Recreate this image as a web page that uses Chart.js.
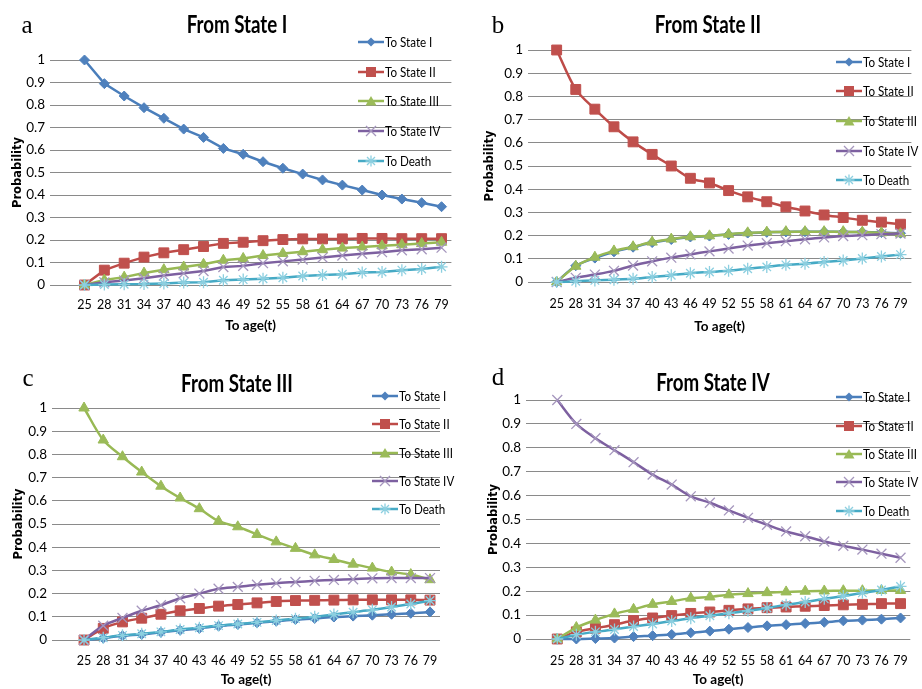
<!DOCTYPE html>
<html lang="en">
<head>
<meta charset="UTF-8" />
<title>Transition probabilities by age</title>
<script src="https://cdn.jsdelivr.net/npm/chart.js"></script>
<style>
  body { margin: 0; background: #fff; }
  #page { position: relative; width: 922px; height: 689px; overflow: hidden; background: #fff; }
  .panel { position: absolute; }
  .letter { position: absolute; transform: translate(-50%, -50%); font-family: 'Liberation Serif', 'DejaVu Serif', serif; font-size: 25px; color: #000; }
  .title { position: absolute; transform: translate(-50%, -50%) scaleX(0.78); white-space: nowrap; font-family: Lato, sans-serif; font-weight: bold; font-size: 24px; color: #000; }
  .leg { position: absolute; display: flex; align-items: center; height: 16px; white-space: nowrap; font-family: Lato, sans-serif; font-size: 13.5px; color: #000; }
  .leg svg { display: block; margin-right: 1px; }
  .leg span { display: inline-block; transform: scaleX(0.86); transform-origin: left center; }
</style>
</head>
<body>
<div id="page"></div>

<script>
  // ages on the x axis and the probability ticks
  const ages = [25, 28, 31, 34, 37, 40, 43, 46, 49, 52, 55, 58, 61, 64, 67, 70, 73, 76, 79];
  const yTicks = [0, 0.1, 0.2, 0.3, 0.4, 0.5, 0.6, 0.7, 0.8, 0.9, 1];
  const seriesNames = ['To State I', 'To State II', 'To State III', 'To State IV', 'To Death'];
  const panelLetters = ['a', 'b', 'c', 'd'];
  const panelTitles = ['From State I', 'From State II', 'From State III', 'From State IV'];

  // a: from State I
  const a_toI   = [1.0, 0.895, 0.84, 0.788, 0.741, 0.693, 0.656, 0.607, 0.581, 0.548, 0.519, 0.493, 0.467, 0.444, 0.422, 0.4, 0.382, 0.366, 0.348];
  const a_toII  = [0, 0.066, 0.097, 0.124, 0.143, 0.157, 0.171, 0.185, 0.19, 0.197, 0.202, 0.205, 0.205, 0.205, 0.207, 0.207, 0.206, 0.206, 0.206];
  const a_toIII = [0, 0.022, 0.035, 0.053, 0.068, 0.08, 0.092, 0.11, 0.118, 0.131, 0.14, 0.148, 0.157, 0.164, 0.169, 0.174, 0.179, 0.184, 0.19];
  const a_toIV  = [0, 0.012, 0.02, 0.03, 0.042, 0.052, 0.062, 0.08, 0.085, 0.097, 0.105, 0.113, 0.122, 0.131, 0.139, 0.146, 0.154, 0.159, 0.166];
  const a_toD   = [0, 0.002, 0.003, 0.004, 0.007, 0.011, 0.012, 0.021, 0.024, 0.028, 0.032, 0.04, 0.044, 0.048, 0.056, 0.058, 0.066, 0.071, 0.081];

  // b: from State II
  const b_toI   = [0, 0.07, 0.103, 0.13, 0.15, 0.17, 0.183, 0.194, 0.198, 0.205, 0.211, 0.214, 0.216, 0.217, 0.217, 0.216, 0.215, 0.213, 0.21];
  const b_toII  = [1.0, 0.83, 0.745, 0.669, 0.604, 0.55, 0.5, 0.447, 0.427, 0.394, 0.367, 0.346, 0.324, 0.306, 0.289, 0.278, 0.266, 0.258, 0.249];
  const b_toIII = [0, 0.068, 0.107, 0.134, 0.152, 0.172, 0.185, 0.195, 0.199, 0.206, 0.212, 0.215, 0.217, 0.217, 0.217, 0.217, 0.215, 0.212, 0.208];
  const b_toIV  = [0, 0.018, 0.032, 0.048, 0.071, 0.089, 0.105, 0.119, 0.132, 0.144, 0.157, 0.167, 0.176, 0.184, 0.192, 0.198, 0.202, 0.206, 0.209];
  const b_toD   = [0, 0.003, 0.007, 0.01, 0.014, 0.022, 0.029, 0.038, 0.043, 0.048, 0.057, 0.065, 0.074, 0.079, 0.086, 0.093, 0.101, 0.11, 0.118];

  // c: from State III
  const c_toI   = [0, 0.008, 0.018, 0.024, 0.033, 0.042, 0.05, 0.06, 0.067, 0.074, 0.081, 0.088, 0.093, 0.099, 0.103, 0.107, 0.111, 0.115, 0.121];
  const c_toII  = [0, 0.05, 0.078, 0.094, 0.111, 0.126, 0.136, 0.146, 0.153, 0.16, 0.166, 0.17, 0.171, 0.172, 0.173, 0.173, 0.173, 0.173, 0.172];
  const c_toIII = [1.0, 0.862, 0.79, 0.724, 0.663, 0.612, 0.566, 0.512, 0.488, 0.455, 0.423, 0.395, 0.367, 0.347, 0.327, 0.31, 0.293, 0.282, 0.26];
  const c_toIV  = [0, 0.062, 0.095, 0.126, 0.15, 0.18, 0.2, 0.221, 0.229, 0.238, 0.245, 0.25, 0.255, 0.259, 0.262, 0.266, 0.267, 0.267, 0.267];
  const c_toD   = [0, 0.01, 0.02, 0.027, 0.035, 0.045, 0.053, 0.062, 0.069, 0.076, 0.084, 0.092, 0.1, 0.11, 0.12, 0.13, 0.142, 0.155, 0.17];

  // d: from State IV
  const d_toI   = [0, 0.0, 0.002, 0.004, 0.01, 0.014, 0.019, 0.026, 0.033, 0.041, 0.048, 0.055, 0.06, 0.065, 0.07, 0.076, 0.079, 0.083, 0.088];
  const d_toII  = [0, 0.03, 0.045, 0.06, 0.077, 0.088, 0.098, 0.107, 0.113, 0.12, 0.126, 0.131, 0.134, 0.137, 0.14, 0.143, 0.145, 0.148, 0.148];
  const d_toIII = [0, 0.048, 0.079, 0.105, 0.124, 0.145, 0.157, 0.171, 0.176, 0.185, 0.19, 0.194, 0.197, 0.2, 0.201, 0.202, 0.202, 0.203, 0.203];
  const d_toIV  = [1.0, 0.9, 0.84, 0.79, 0.74, 0.688, 0.646, 0.597, 0.57, 0.538, 0.507, 0.478, 0.45, 0.43, 0.408, 0.39, 0.374, 0.357, 0.34];
  const d_toD   = [0, 0.018, 0.03, 0.04, 0.052, 0.063, 0.075, 0.087, 0.097, 0.108, 0.118, 0.13, 0.143, 0.155, 0.168, 0.18, 0.193, 0.205, 0.22];

  // Excel-like series styles
  const lineColors   = ['#4a7ebb', '#be4b48', '#98b954', '#7d60a0', '#46aac5'];
  const markerColors = ['#4f81bd', '#c0504d', '#9bbb59', '#a596bd', '#8ccfe0'];
  const markerStyles = ['rectRot', 'rect', 'triangle', 'crossRot', 'star'];
  const markerSizes  = [5, 7, 6, 7, 6];

  // layout of the four panels (canvas box, plot area inside it, overlay positions)
  const panels = [
    { series: [a_toI, a_toII, a_toIII, a_toIV, a_toD], box: [0, 0, 461, 336], area: [50, 60, 457, 285],
      xMin: 19.78, xMax: 80.49, tension: 0, yTitlePad: 11, xTitlePad: 2, xTickPad: 12,
      letter: [27, 25], title: [237, 23], legX: 358, legRows: [42, 72, 101, 131, 161] },
    { series: [b_toI, b_toII, b_toIII, b_toIV, b_toD], box: [461, 0, 461, 336], area: [67, 50, 455, 282],
      xMin: 20.5, xMax: 80.71, tension: 0.3, yTitlePad: 22, xTitlePad: 1, xTickPad: 14,
      letter: [498, 25], title: [708, 23], legX: 836, legRows: [62, 91, 121, 151, 180] },
    { series: [c_toI, c_toII, c_toIII, c_toIV, c_toD], box: [0, 340, 461, 349], area: [52, 68, 440, 300],
      xMin: 20.0, xMax: 80.56, tension: 0.3, yTitlePad: 12, xTitlePad: 1, xTickPad: 13,
      letter: [28, 378], title: [237, 382], legX: 372, legRows: [396, 424, 453, 481, 509] },
    { series: [d_toI, d_toII, d_toIII, d_toIV, d_toD], box: [461, 340, 461, 349], area: [65, 60, 458, 299],
      xMin: 20.08, xMax: 80.54, tension: 0.3, yTitlePad: 26, xTitlePad: 1, xTickPad: 14,
      letter: [498, 377], title: [713, 381], legX: 836, legRows: [397, 426, 454, 482, 511] }
  ];

  const page = document.getElementById('page');

  // small svg icon for the legend: line with the series marker
  function legendIcon(i) {
    const c = lineColors[i], m = markerColors[i], cx = 13, cy = 8;
    let mark = '';
    if (markerStyles[i] === 'rectRot') mark = `<polygon points="${cx},${cy-4.5} ${cx+4.5},${cy} ${cx},${cy+4.5} ${cx-4.5},${cy}" fill="${m}"/>`;
    if (markerStyles[i] === 'rect') mark = `<rect x="${cx-5}" y="${cy-5}" width="10" height="10" fill="${m}"/>`;
    if (markerStyles[i] === 'triangle') mark = `<polygon points="${cx},${cy-5} ${cx+5.5},${cy+4.5} ${cx-5.5},${cy+4.5}" fill="${m}"/>`;
    if (markerStyles[i] === 'crossRot') mark = `<path d="M${cx-5} ${cy-5}L${cx+5} ${cy+5}M${cx+5} ${cy-5}L${cx-5} ${cy+5}" stroke="${m}" stroke-width="1.3"/>`;
    if (markerStyles[i] === 'star') mark = `<path d="M${cx-4} ${cy-4}L${cx+4} ${cy+4}M${cx+4} ${cy-4}L${cx-4} ${cy+4}M${cx} ${cy-5.5}L${cx} ${cy+5.5}M${cx-5.5} ${cy}L${cx+5.5} ${cy}" stroke="${m}" stroke-width="1.3"/>`;
    return `<svg width="26" height="16"><line x1="0" y1="${cy}" x2="26" y2="${cy}" stroke="${c}" stroke-width="2.5"/>${mark}</svg>`;
  }

  panels.forEach((p, k) => {
    const [bx, by, bw, bh] = p.box;
    const [al, at, ar, ab] = p.area;

    const wrap = document.createElement('div');
    wrap.className = 'panel';
    wrap.style.cssText = `left:${bx}px;top:${by}px;width:${bw}px;height:${bh}px;`;
    const cv = document.createElement('canvas');
    wrap.appendChild(cv);
    page.appendChild(wrap);

    const datasets = p.series.map((vals, i) => ({
      label: seriesNames[i],
      data: vals.map((v, j) => ({ x: ages[j], y: v })),
      borderColor: lineColors[i],
      backgroundColor: markerColors[i],
      borderWidth: 2.5,
      pointStyle: markerStyles[i],
      pointRadius: markerSizes[i],
      pointBackgroundColor: markerColors[i],
      pointBorderColor: markerColors[i],
      pointBorderWidth: (i >= 3) ? 1.3 : 1,
      tension: p.tension,
      order: 4 - i,
      clip: false
    }));

    new Chart(cv, {
      type: 'line',
      data: { datasets },
      options: {
        responsive: true,
        maintainAspectRatio: false,
        animation: false,
        layout: { padding: { left: 0, top: at, right: bw - ar, bottom: 0 } },
        plugins: { legend: { display: false }, tooltip: { enabled: false } },
        scales: {
          x: {
            type: 'linear',
            min: p.xMin,
            max: p.xMax,
            afterBuildTicks: s => { s.ticks = ages.map(v => ({ value: v })); },
            afterFit: s => { s.height = bh - ab; },
            grid: { display: false, drawTicks: false },
            border: { display: false },
            ticks: { color: '#000', padding: p.xTickPad, maxRotation: 0, autoSkip: false,
                     font: { family: 'Lato, sans-serif', size: 12.5 }, callback: v => String(v) },
            title: { display: true, text: 'To age(t)', color: '#000', padding: { top: 0, bottom: p.xTitlePad },
                     font: { family: 'Lato, sans-serif', size: 13.5, weight: 'bold' } }
          },
          y: {
            min: 0,
            max: 1,
            afterBuildTicks: s => { s.ticks = yTicks.map(v => ({ value: v })); },
            afterFit: s => { s.width = al; },
            grid: { color: '#8a8a8a', lineWidth: 1, drawTicks: false },
            border: { display: false },
            ticks: { color: '#000', padding: 5, font: { family: 'Lato, sans-serif', size: 13.5 }, callback: v => String(v) },
            title: { display: true, text: 'Probability', color: '#000', padding: { top: p.yTitlePad, bottom: 0 },
                     font: { family: "'DejaVu Sans', sans-serif", size: 11.5, weight: 'bold' } }
          }
        }
      }
    });

    // panel letter and title
    const letter = document.createElement('div');
    letter.className = 'letter';
    letter.textContent = panelLetters[k];
    letter.style.left = p.letter[0] + 'px';
    letter.style.top = p.letter[1] + 'px';
    page.appendChild(letter);

    const title = document.createElement('div');
    title.className = 'title';
    title.textContent = panelTitles[k];
    title.style.left = p.title[0] + 'px';
    title.style.top = p.title[1] + 'px';
    page.appendChild(title);

    // legend rows
    seriesNames.forEach((name, i) => {
      const row = document.createElement('div');
      row.className = 'leg';
      row.style.left = p.legX + 'px';
      row.style.top = (p.legRows[i] - 8) + 'px';
      row.innerHTML = legendIcon(i) + '<span></span>';
      row.querySelector('span').textContent = name;
      page.appendChild(row);
    });
  });
</script>
</body>
</html>
